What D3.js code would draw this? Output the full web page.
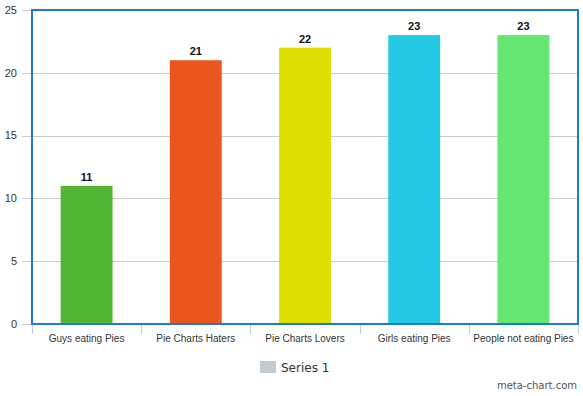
<!DOCTYPE html>
<html>
<head>
<meta charset="utf-8">
<script src="https://cdn.jsdelivr.net/npm/d3@7"></script>
<style>
  body { margin: 0; background: #fff; }
  svg { display: block; }
</style>
</head>
<body>
<div id="chart"></div>
<script>
const categories = ["Guys eating Pies", "Pie Charts Haters", "Pie Charts Lovers", "Girls eating Pies", "People not eating Pies"];
const values = [11, 21, 22, 23, 23];
const barColors = ["#52b534", "#ea561d", "#dde000", "#26c9e4", "#65e572"];
const yTicks = [0, 5, 10, 15, 20, 25];
const seriesName = "Series 1";

const width = 583, height = 396;
const margin = { top: 10, right: 5, bottom: 72, left: 32 };

const svg = d3.select("#chart").append("svg")
    .attr("width", width)
    .attr("height", height);

const x = d3.scaleBand()
    .domain(categories)
    .range([margin.left, width - margin.right])
    .paddingInner(0.525)
    .paddingOuter(0.2625);

const xTickScale = d3.scaleBand()
    .domain(categories)
    .range([margin.left, width - margin.right]);

const y = d3.scaleLinear()
    .domain([0, 25])
    .range([height - margin.bottom, margin.top]);

// grid lines
svg.append("g")
    .selectAll("line")
    .data(yTicks)
    .join("line")
    .attr("x1", margin.left - 10)
    .attr("x2", width - margin.right)
    .attr("y1", d => Math.round(y(d)) + 0.5)
    .attr("y2", d => Math.round(y(d)) + 0.5)
    .attr("stroke", "#cccccc")
    .attr("stroke-width", 1);

// y labels
svg.append("g")
    .selectAll("text")
    .data(yTicks)
    .join("text")
    .attr("x", 17)
    .attr("y", d => y(d))
    .attr("dy", "0.35em")
    .attr("text-anchor", "end")
    .style("font-family", "Liberation Sans, Arial, sans-serif")
    .style("font-size", "11px")
    .attr("fill", "#333")
    .text(d => d);

// bars
svg.append("g")
    .selectAll("rect")
    .data(values)
    .join("rect")
    .attr("x", (d, i) => x(categories[i]))
    .attr("y", d => y(d))
    .attr("width", x.bandwidth())
    .attr("height", d => y(0) - y(d))
    .attr("fill", (d, i) => barColors[i]);

// value labels
svg.append("g")
    .selectAll("text")
    .data(values)
    .join("text")
    .attr("x", (d, i) => x(categories[i]) + x.bandwidth() / 2)
    .attr("y", d => y(d) - 5)
    .attr("text-anchor", "middle")
    .style("font-family", "Liberation Sans, Arial, sans-serif")
    .style("font-size", "11px")
    .style("font-weight", "bold")
    .attr("fill", "#111")
    .text(d => d);

// x tick marks
const xTickPos = categories.map(c => xTickScale(c)).concat([width - margin.right]);
svg.append("g")
    .selectAll("line")
    .data(xTickPos)
    .join("line")
    .attr("x1", d => Math.round(d) + 0.5)
    .attr("x2", d => Math.round(d) + 0.5)
    .attr("y1", y(0))
    .attr("y2", y(0) + 10)
    .attr("stroke", "#c0d0e0")
    .attr("stroke-width", 1);

// x labels
svg.append("g")
    .selectAll("text")
    .data(categories)
    .join("text")
    .attr("x", d => xTickScale(d) + xTickScale.bandwidth() / 2)
    .attr("y", y(0) + 18)
    .attr("text-anchor", "middle")
    .style("font-family", "Liberation Sans, Arial, sans-serif")
    .style("font-size", "10px")
    .attr("fill", "#333")
    .text(d => d);

// plot border
svg.append("rect")
    .attr("x", margin.left)
    .attr("y", margin.top)
    .attr("width", width - margin.right - margin.left)
    .attr("height", y(0) - margin.top)
    .attr("fill", "none")
    .attr("stroke", "#1f78d1")
    .attr("stroke-width", 2);

// legend
const legend = svg.append("g").attr("transform", "translate(260,361)");
legend.append("rect")
    .attr("width", 16)
    .attr("height", 12)
    .attr("fill", "#c3cad4");
legend.append("text")
    .attr("x", 21)
    .attr("y", 7)
    .attr("dy", "0.35em")
    .style("font-family", "DejaVu Sans, Verdana, sans-serif")
    .style("font-size", "12px")
    .attr("fill", "#333")
    .text(seriesName);

// credit
svg.append("text")
    .attr("x", 577)
    .attr("y", 389)
    .attr("text-anchor", "end")
    .style("font-family", "DejaVu Sans, Verdana, sans-serif")
    .style("font-size", "10px")
    .attr("fill", "#555")
    .text("meta-chart.com");
</script>
</body>
</html>
